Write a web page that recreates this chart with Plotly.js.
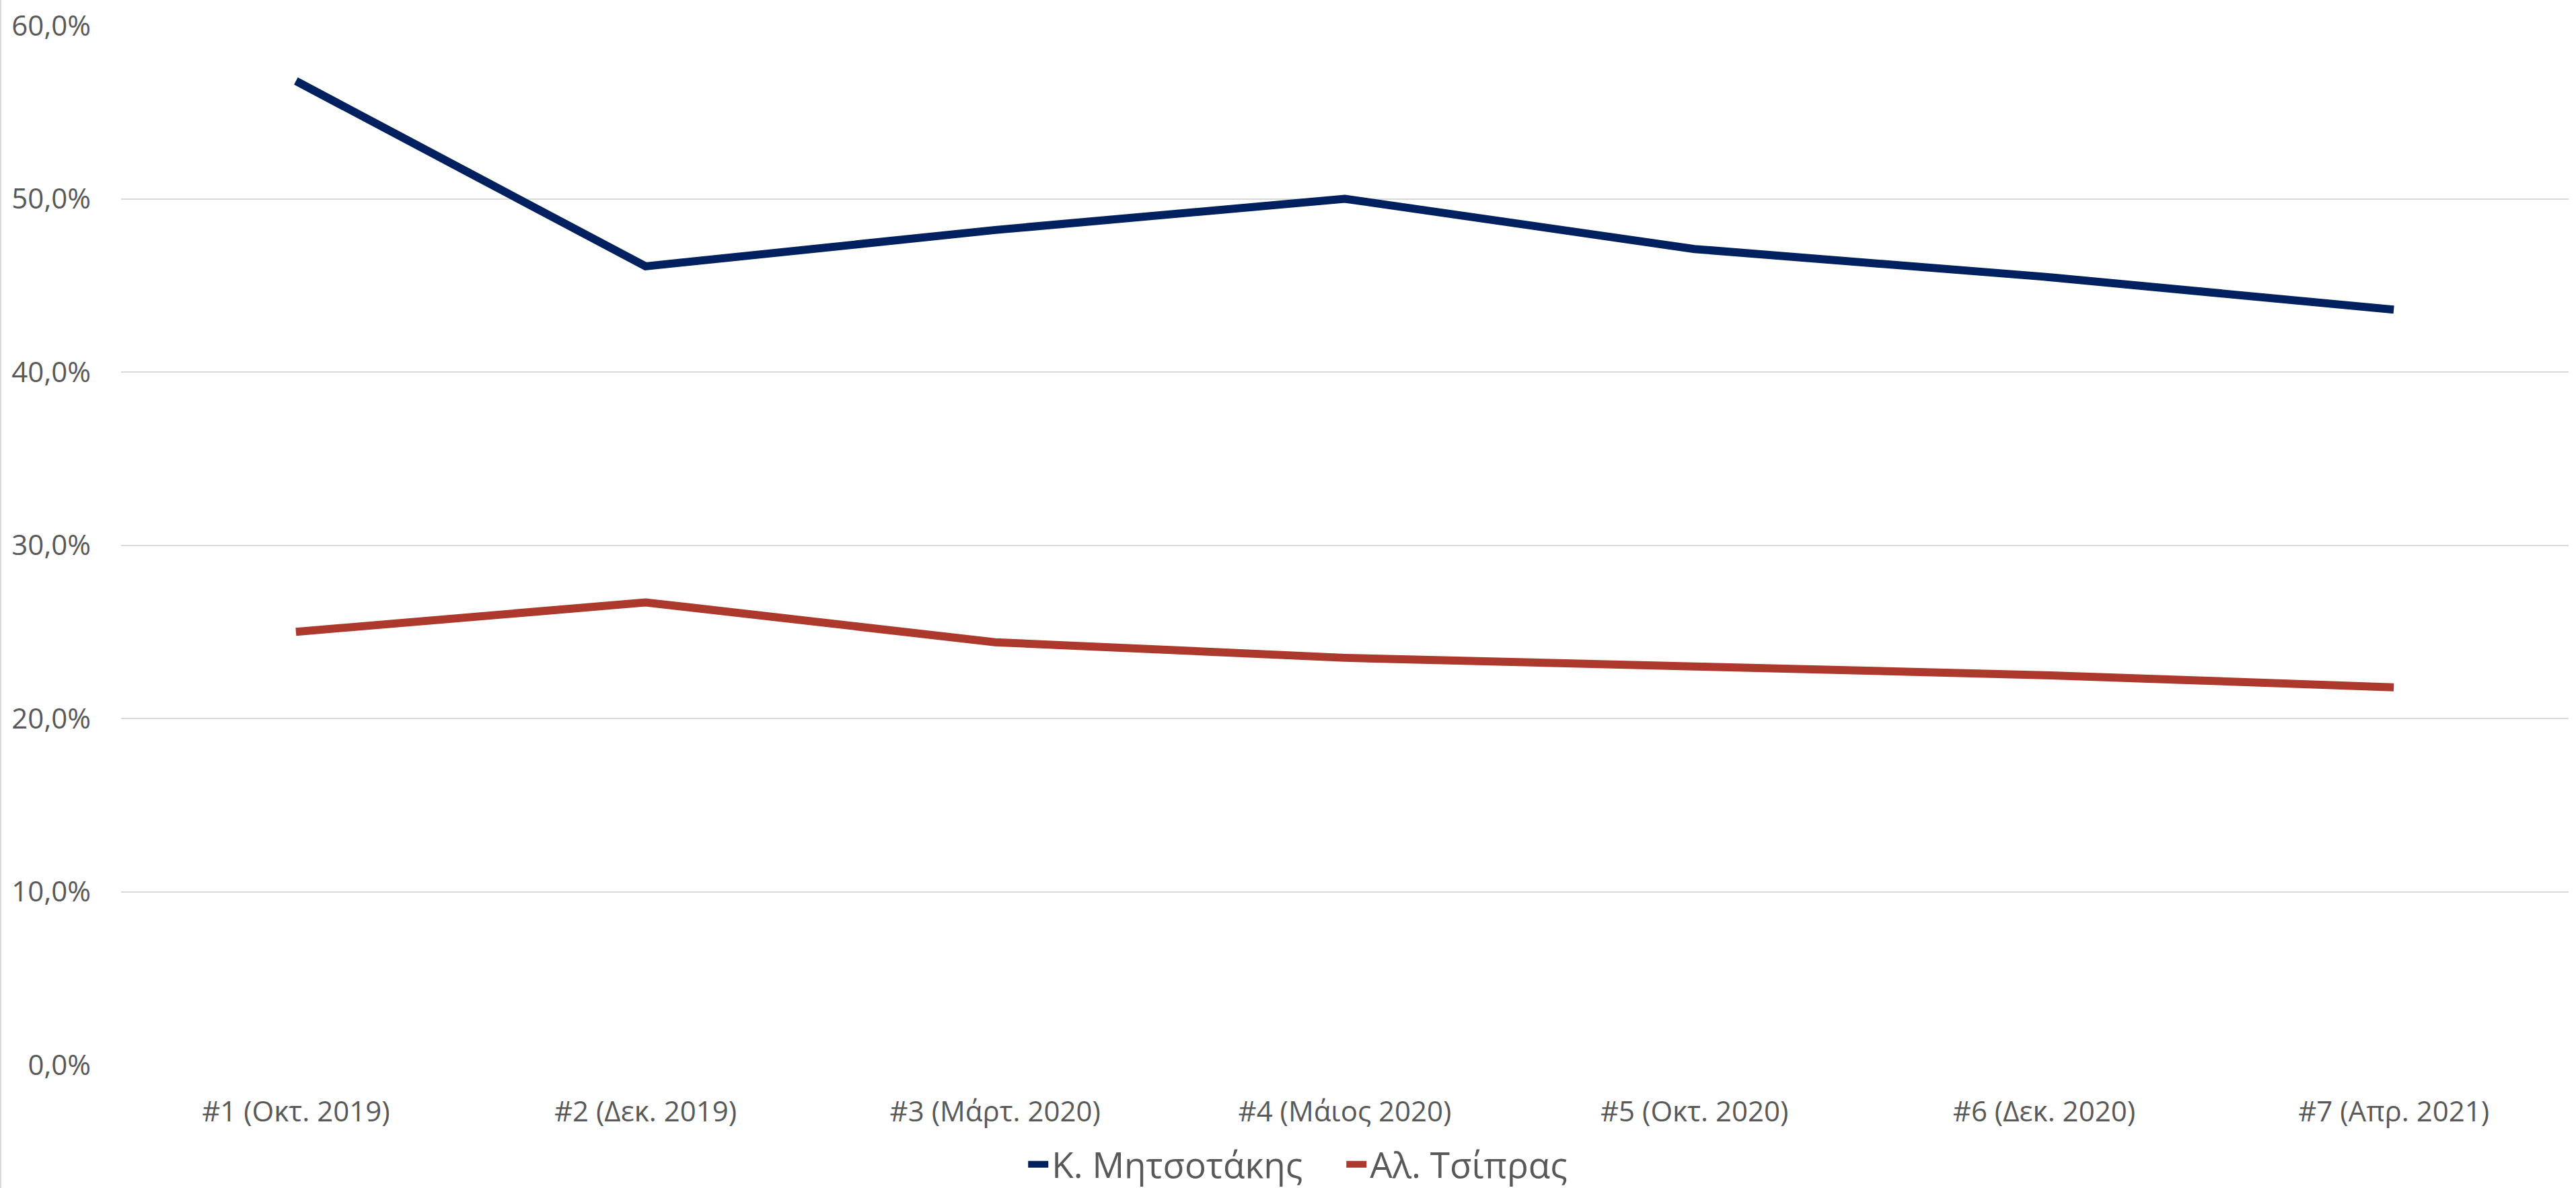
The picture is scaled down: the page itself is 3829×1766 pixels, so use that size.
<!DOCTYPE html>
<html>
<head>
<meta charset="utf-8">
<script src="https://cdn.plot.ly/plotly-3.0.1.min.js"></script>
<style>
  html, body { margin: 0; padding: 0; background: #fff; }
  #chart { width: 3829px; height: 1766px; box-sizing: border-box; border-left: 2px solid #d9d9d9; }
</style>
</head>
<body>
<div id="chart"></div>
<script>
const categories = ["#1 (Οκτ. 2019)", "#2 (Δεκ. 2019)", "#3 (Μάρτ. 2020)", "#4 (Μάιος 2020)", "#5 (Οκτ. 2020)", "#6 (Δεκ. 2020)", "#7 (Απρ. 2021)"];
const mitsotakis = [0.568, 0.461, 0.482, 0.500, 0.471, 0.455, 0.436];
const tsipras = [0.250, 0.267, 0.244, 0.235, 0.230, 0.225, 0.218];
const seriesNames = ["Κ. Μητσοτάκης", "Αλ. Τσίπρας"];
const yTicks = [0, 0.1, 0.2, 0.3, 0.4, 0.5, 0.6];

const traces = [
  { x: categories, y: mitsotakis, name: seriesNames[0], type: "scatter", mode: "lines",
    line: { color: "#01205F", width: 12 } },
  { x: categories, y: tsipras, name: seriesNames[1], type: "scatter", mode: "lines",
    line: { color: "#AD392D", width: 12 } }
];

const layout = {
  width: 3827, height: 1766,
  margin: { l: 178, r: 11, t: 38, b: 183 },
  paper_bgcolor: "#fff", plot_bgcolor: "#fff",
  separators: ",.",
  font: { family: "Open Sans, sans-serif", color: "#595959", size: 42 },
  showlegend: true,
  legend: { orientation: "h", xref: "container", yref: "container",
    x: 0.3975, xanchor: "left", y: 0.02, yanchor: "middle",
    font: { size: 53, color: "#595959" }, traceorder: "normal", itemwidth: 30,
    entrywidth: 428, entrywidthmode: "pixels",
    borderwidth: 0, bgcolor: "rgba(0,0,0,0)" },
  xaxis: { type: "category", range: [-0.5, 6.5], showgrid: false, zeroline: false,
    showline: false, ticks: "", ticklabelstandoff: 41, tickfont: { size: 42, color: "#595959" } },
  yaxis: { range: [0, 0.6], tickvals: yTicks, tickformat: ".1%", showgrid: true,
    gridcolor: "#d9d9d9", gridwidth: 2, zeroline: false, showline: false, ticks: "",
    ticklabelstandoff: 44, tickfont: { size: 42, color: "#595959" } }
};

Plotly.newPlot("chart", traces, layout, { displayModeBar: false, staticPlot: true });
</script>
</body>
</html>
